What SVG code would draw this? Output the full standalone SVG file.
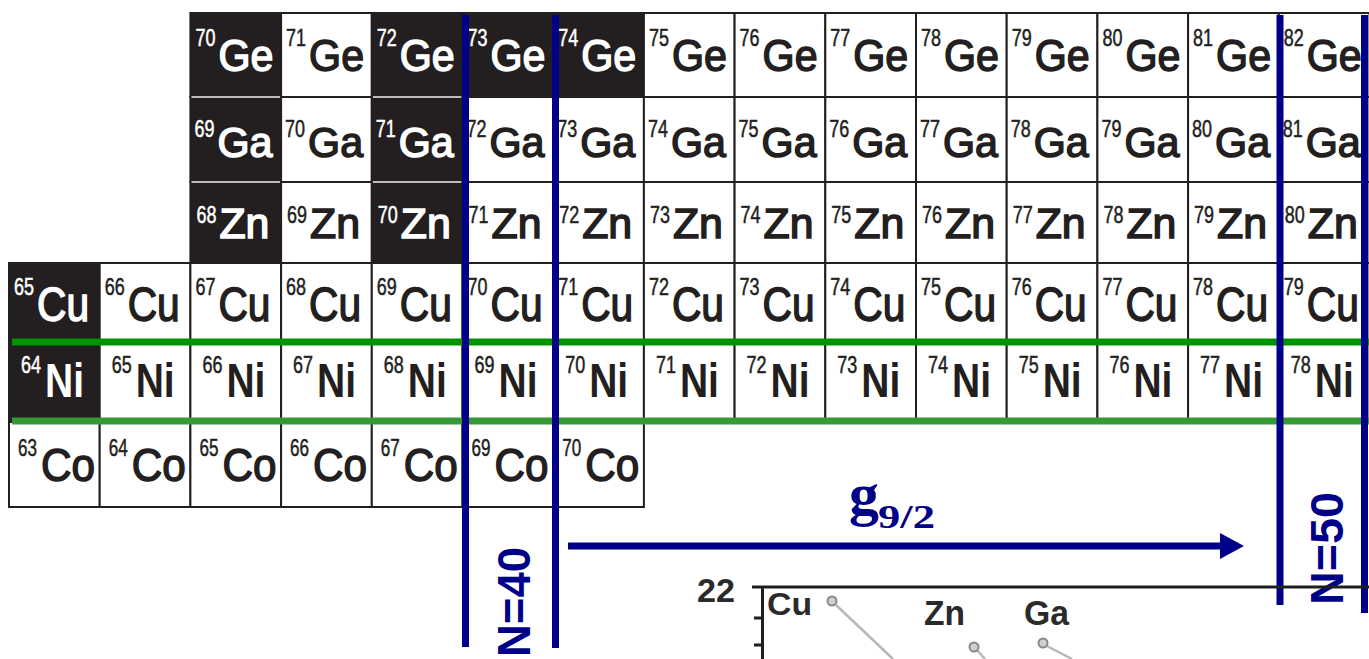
<svg xmlns="http://www.w3.org/2000/svg" width="1369" height="659" viewBox="0 0 1369 659">
<defs>
<style>
rect.w{fill:#fff;stroke:#231f20;stroke-width:2}
rect.k{fill:#231f20;stroke:#231f20;stroke-width:2}
text{font-family:'Liberation Sans',Arial,sans-serif}
text.s{font-size:23px;stroke-width:0.5}
text.y{stroke-width:1.5}
.tw{fill:#fff;stroke:#fff}
.tk{fill:#231f20;stroke:#231f20}
.ge{font-size:44px}
.ga{font-size:42px}
.zn{font-size:42px}
.cu{font-size:48px}
.ni{font-size:48px;font-weight:bold;stroke-width:0 !important}
.co{font-size:46px}
.nl{fill:none;stroke:#000088;stroke-width:7}
.gl1{stroke:#009400;stroke-width:7}
.gl2{stroke:#359a35;stroke-width:7}
.nt{fill:#000088;font-weight:bold;font-size:46px}
.pt{fill:#2a2a2a;font-weight:bold}
</style>
<marker id="ah" markerUnits="userSpaceOnUse" markerWidth="26" markerHeight="26" refX="2" refY="13" orient="auto">
<path d="M0,0 L24,13 L0,26 Z" fill="#000088"/>
</marker>
</defs>
<rect width="1369" height="659" fill="#fff"/>

<g id="row-ge">
<g id="ge70"><rect class="k" x="190.4" y="13" width="90.7" height="84"/><text class="s tw" x="195.4" y="46" textLength="20" lengthAdjust="spacingAndGlyphs">70</text><text class="y ge tw" x="218.4" y="71" textLength="55" lengthAdjust="spacingAndGlyphs">Ge</text></g>
<g id="ge71"><rect class="w" x="281.1" y="13" width="90.7" height="84"/><text class="s tk" x="286.1" y="46" textLength="20" lengthAdjust="spacingAndGlyphs">71</text><text class="y ge tk" x="309.1" y="71" textLength="55" lengthAdjust="spacingAndGlyphs">Ge</text></g>
<g id="ge72"><rect class="k" x="371.8" y="13" width="90.7" height="84"/><text class="s tw" x="376.8" y="46" textLength="20" lengthAdjust="spacingAndGlyphs">72</text><text class="y ge tw" x="399.8" y="71" textLength="55" lengthAdjust="spacingAndGlyphs">Ge</text></g>
<g id="ge73"><rect class="k" x="462.5" y="13" width="90.7" height="84"/><text class="s tw" x="467.5" y="46" textLength="20" lengthAdjust="spacingAndGlyphs">73</text><text class="y ge tw" x="490.5" y="71" textLength="55" lengthAdjust="spacingAndGlyphs">Ge</text></g>
<g id="ge74"><rect class="k" x="553.2" y="13" width="90.7" height="84"/><text class="s tw" x="558.2" y="46" textLength="20" lengthAdjust="spacingAndGlyphs">74</text><text class="y ge tw" x="581.2" y="71" textLength="55" lengthAdjust="spacingAndGlyphs">Ge</text></g>
<g id="ge75"><rect class="w" x="643.9" y="13" width="90.7" height="84"/><text class="s tk" x="648.9" y="46" textLength="20" lengthAdjust="spacingAndGlyphs">75</text><text class="y ge tk" x="671.9" y="71" textLength="55" lengthAdjust="spacingAndGlyphs">Ge</text></g>
<g id="ge76"><rect class="w" x="734.6" y="13" width="90.7" height="84"/><text class="s tk" x="739.6" y="46" textLength="20" lengthAdjust="spacingAndGlyphs">76</text><text class="y ge tk" x="762.6" y="71" textLength="55" lengthAdjust="spacingAndGlyphs">Ge</text></g>
<g id="ge77"><rect class="w" x="825.3" y="13" width="90.7" height="84"/><text class="s tk" x="830.3" y="46" textLength="20" lengthAdjust="spacingAndGlyphs">77</text><text class="y ge tk" x="853.3" y="71" textLength="55" lengthAdjust="spacingAndGlyphs">Ge</text></g>
<g id="ge78"><rect class="w" x="916" y="13" width="90.7" height="84"/><text class="s tk" x="921" y="46" textLength="20" lengthAdjust="spacingAndGlyphs">78</text><text class="y ge tk" x="944" y="71" textLength="55" lengthAdjust="spacingAndGlyphs">Ge</text></g>
<g id="ge79"><rect class="w" x="1006.7" y="13" width="90.7" height="84"/><text class="s tk" x="1011.7" y="46" textLength="20" lengthAdjust="spacingAndGlyphs">79</text><text class="y ge tk" x="1034.7" y="71" textLength="55" lengthAdjust="spacingAndGlyphs">Ge</text></g>
<g id="ge80"><rect class="w" x="1097.4" y="13" width="90.7" height="84"/><text class="s tk" x="1102.4" y="46" textLength="20" lengthAdjust="spacingAndGlyphs">80</text><text class="y ge tk" x="1125.4" y="71" textLength="55" lengthAdjust="spacingAndGlyphs">Ge</text></g>
<g id="ge81"><rect class="w" x="1188.1" y="13" width="90.7" height="84"/><text class="s tk" x="1193.1" y="46" textLength="20" lengthAdjust="spacingAndGlyphs">81</text><text class="y ge tk" x="1216.1" y="71" textLength="55" lengthAdjust="spacingAndGlyphs">Ge</text></g>
<g id="ge82"><rect class="w" x="1278.8" y="13" width="90.7" height="84"/><text class="s tk" x="1283.8" y="46" textLength="20" lengthAdjust="spacingAndGlyphs">82</text><text class="y ge tk" x="1306.8" y="71" textLength="55" lengthAdjust="spacingAndGlyphs">Ge</text></g>
</g>

<g id="row-ga">
<g id="ga69"><rect class="k" x="190.4" y="97" width="90.7" height="85"/><text class="s tw" x="194.4" y="137" textLength="20" lengthAdjust="spacingAndGlyphs">69</text><text class="y ga tw" x="217.4" y="157" textLength="55" lengthAdjust="spacingAndGlyphs">Ga</text></g>
<g id="ga70"><rect class="w" x="281.1" y="97" width="90.7" height="85"/><text class="s tk" x="285.1" y="137" textLength="20" lengthAdjust="spacingAndGlyphs">70</text><text class="y ga tk" x="308.1" y="157" textLength="55" lengthAdjust="spacingAndGlyphs">Ga</text></g>
<g id="ga71"><rect class="k" x="371.8" y="97" width="90.7" height="85"/><text class="s tw" x="375.8" y="137" textLength="20" lengthAdjust="spacingAndGlyphs">71</text><text class="y ga tw" x="398.8" y="157" textLength="55" lengthAdjust="spacingAndGlyphs">Ga</text></g>
<g id="ga72"><rect class="w" x="462.5" y="97" width="90.7" height="85"/><text class="s tk" x="466.5" y="137" textLength="20" lengthAdjust="spacingAndGlyphs">72</text><text class="y ga tk" x="489.5" y="157" textLength="55" lengthAdjust="spacingAndGlyphs">Ga</text></g>
<g id="ga73"><rect class="w" x="553.2" y="97" width="90.7" height="85"/><text class="s tk" x="557.2" y="137" textLength="20" lengthAdjust="spacingAndGlyphs">73</text><text class="y ga tk" x="580.2" y="157" textLength="55" lengthAdjust="spacingAndGlyphs">Ga</text></g>
<g id="ga74"><rect class="w" x="643.9" y="97" width="90.7" height="85"/><text class="s tk" x="647.9" y="137" textLength="20" lengthAdjust="spacingAndGlyphs">74</text><text class="y ga tk" x="670.9" y="157" textLength="55" lengthAdjust="spacingAndGlyphs">Ga</text></g>
<g id="ga75"><rect class="w" x="734.6" y="97" width="90.7" height="85"/><text class="s tk" x="738.6" y="137" textLength="20" lengthAdjust="spacingAndGlyphs">75</text><text class="y ga tk" x="761.6" y="157" textLength="55" lengthAdjust="spacingAndGlyphs">Ga</text></g>
<g id="ga76"><rect class="w" x="825.3" y="97" width="90.7" height="85"/><text class="s tk" x="829.3" y="137" textLength="20" lengthAdjust="spacingAndGlyphs">76</text><text class="y ga tk" x="852.3" y="157" textLength="55" lengthAdjust="spacingAndGlyphs">Ga</text></g>
<g id="ga77"><rect class="w" x="916" y="97" width="90.7" height="85"/><text class="s tk" x="920" y="137" textLength="20" lengthAdjust="spacingAndGlyphs">77</text><text class="y ga tk" x="943" y="157" textLength="55" lengthAdjust="spacingAndGlyphs">Ga</text></g>
<g id="ga78"><rect class="w" x="1006.7" y="97" width="90.7" height="85"/><text class="s tk" x="1010.7" y="137" textLength="20" lengthAdjust="spacingAndGlyphs">78</text><text class="y ga tk" x="1033.7" y="157" textLength="55" lengthAdjust="spacingAndGlyphs">Ga</text></g>
<g id="ga79"><rect class="w" x="1097.4" y="97" width="90.7" height="85"/><text class="s tk" x="1101.4" y="137" textLength="20" lengthAdjust="spacingAndGlyphs">79</text><text class="y ga tk" x="1124.4" y="157" textLength="55" lengthAdjust="spacingAndGlyphs">Ga</text></g>
<g id="ga80"><rect class="w" x="1188.1" y="97" width="90.7" height="85"/><text class="s tk" x="1192.1" y="137" textLength="20" lengthAdjust="spacingAndGlyphs">80</text><text class="y ga tk" x="1215.1" y="157" textLength="55" lengthAdjust="spacingAndGlyphs">Ga</text></g>
<g id="ga81"><rect class="w" x="1278.8" y="97" width="90.7" height="85"/><text class="s tk" x="1282.8" y="137" textLength="20" lengthAdjust="spacingAndGlyphs">81</text><text class="y ga tk" x="1305.8" y="157" textLength="55" lengthAdjust="spacingAndGlyphs">Ga</text></g>
</g>

<g id="row-zn">
<g id="zn68"><rect class="k" x="190.4" y="182" width="90.7" height="81"/><text class="s tw" x="196.4" y="223" textLength="20" lengthAdjust="spacingAndGlyphs">68</text><text class="y zn tw" x="219.4" y="238" textLength="50" lengthAdjust="spacingAndGlyphs">Zn</text></g>
<g id="zn69"><rect class="w" x="281.1" y="182" width="90.7" height="81"/><text class="s tk" x="287.1" y="223" textLength="20" lengthAdjust="spacingAndGlyphs">69</text><text class="y zn tk" x="310.1" y="238" textLength="50" lengthAdjust="spacingAndGlyphs">Zn</text></g>
<g id="zn70"><rect class="k" x="371.8" y="182" width="90.7" height="81"/><text class="s tw" x="377.8" y="223" textLength="20" lengthAdjust="spacingAndGlyphs">70</text><text class="y zn tw" x="400.8" y="238" textLength="50" lengthAdjust="spacingAndGlyphs">Zn</text></g>
<g id="zn71"><rect class="w" x="462.5" y="182" width="90.7" height="81"/><text class="s tk" x="468.5" y="223" textLength="20" lengthAdjust="spacingAndGlyphs">71</text><text class="y zn tk" x="491.5" y="238" textLength="50" lengthAdjust="spacingAndGlyphs">Zn</text></g>
<g id="zn72"><rect class="w" x="553.2" y="182" width="90.7" height="81"/><text class="s tk" x="559.2" y="223" textLength="20" lengthAdjust="spacingAndGlyphs">72</text><text class="y zn tk" x="582.2" y="238" textLength="50" lengthAdjust="spacingAndGlyphs">Zn</text></g>
<g id="zn73"><rect class="w" x="643.9" y="182" width="90.7" height="81"/><text class="s tk" x="649.9" y="223" textLength="20" lengthAdjust="spacingAndGlyphs">73</text><text class="y zn tk" x="672.9" y="238" textLength="50" lengthAdjust="spacingAndGlyphs">Zn</text></g>
<g id="zn74"><rect class="w" x="734.6" y="182" width="90.7" height="81"/><text class="s tk" x="740.6" y="223" textLength="20" lengthAdjust="spacingAndGlyphs">74</text><text class="y zn tk" x="763.6" y="238" textLength="50" lengthAdjust="spacingAndGlyphs">Zn</text></g>
<g id="zn75"><rect class="w" x="825.3" y="182" width="90.7" height="81"/><text class="s tk" x="831.3" y="223" textLength="20" lengthAdjust="spacingAndGlyphs">75</text><text class="y zn tk" x="854.3" y="238" textLength="50" lengthAdjust="spacingAndGlyphs">Zn</text></g>
<g id="zn76"><rect class="w" x="916" y="182" width="90.7" height="81"/><text class="s tk" x="922" y="223" textLength="20" lengthAdjust="spacingAndGlyphs">76</text><text class="y zn tk" x="945" y="238" textLength="50" lengthAdjust="spacingAndGlyphs">Zn</text></g>
<g id="zn77"><rect class="w" x="1006.7" y="182" width="90.7" height="81"/><text class="s tk" x="1012.7" y="223" textLength="20" lengthAdjust="spacingAndGlyphs">77</text><text class="y zn tk" x="1035.7" y="238" textLength="50" lengthAdjust="spacingAndGlyphs">Zn</text></g>
<g id="zn78"><rect class="w" x="1097.4" y="182" width="90.7" height="81"/><text class="s tk" x="1103.4" y="223" textLength="20" lengthAdjust="spacingAndGlyphs">78</text><text class="y zn tk" x="1126.4" y="238" textLength="50" lengthAdjust="spacingAndGlyphs">Zn</text></g>
<g id="zn79"><rect class="w" x="1188.1" y="182" width="90.7" height="81"/><text class="s tk" x="1194.1" y="223" textLength="20" lengthAdjust="spacingAndGlyphs">79</text><text class="y zn tk" x="1217.1" y="238" textLength="50" lengthAdjust="spacingAndGlyphs">Zn</text></g>
<g id="zn80"><rect class="w" x="1278.8" y="182" width="90.7" height="81"/><text class="s tk" x="1284.8" y="223" textLength="20" lengthAdjust="spacingAndGlyphs">80</text><text class="y zn tk" x="1307.8" y="238" textLength="50" lengthAdjust="spacingAndGlyphs">Zn</text></g>
</g>

<g id="row-cu">
<g id="cu65"><rect class="k" x="9" y="263" width="90.7" height="79"/><text class="s tw" x="14" y="295" textLength="20" lengthAdjust="spacingAndGlyphs">65</text><text class="y cu tw" x="37" y="321" textLength="52" lengthAdjust="spacingAndGlyphs">Cu</text></g>
<g id="cu66"><rect class="w" x="99.7" y="263" width="90.7" height="79"/><text class="s tk" x="104.7" y="295" textLength="20" lengthAdjust="spacingAndGlyphs">66</text><text class="y cu tk" x="127.7" y="321" textLength="52" lengthAdjust="spacingAndGlyphs">Cu</text></g>
<g id="cu67"><rect class="w" x="190.4" y="263" width="90.7" height="79"/><text class="s tk" x="195.4" y="295" textLength="20" lengthAdjust="spacingAndGlyphs">67</text><text class="y cu tk" x="218.4" y="321" textLength="52" lengthAdjust="spacingAndGlyphs">Cu</text></g>
<g id="cu68"><rect class="w" x="281.1" y="263" width="90.7" height="79"/><text class="s tk" x="286.1" y="295" textLength="20" lengthAdjust="spacingAndGlyphs">68</text><text class="y cu tk" x="309.1" y="321" textLength="52" lengthAdjust="spacingAndGlyphs">Cu</text></g>
<g id="cu69"><rect class="w" x="371.8" y="263" width="90.7" height="79"/><text class="s tk" x="376.8" y="295" textLength="20" lengthAdjust="spacingAndGlyphs">69</text><text class="y cu tk" x="399.8" y="321" textLength="52" lengthAdjust="spacingAndGlyphs">Cu</text></g>
<g id="cu70"><rect class="w" x="462.5" y="263" width="90.7" height="79"/><text class="s tk" x="467.5" y="295" textLength="20" lengthAdjust="spacingAndGlyphs">70</text><text class="y cu tk" x="490.5" y="321" textLength="52" lengthAdjust="spacingAndGlyphs">Cu</text></g>
<g id="cu71"><rect class="w" x="553.2" y="263" width="90.7" height="79"/><text class="s tk" x="558.2" y="295" textLength="20" lengthAdjust="spacingAndGlyphs">71</text><text class="y cu tk" x="581.2" y="321" textLength="52" lengthAdjust="spacingAndGlyphs">Cu</text></g>
<g id="cu72"><rect class="w" x="643.9" y="263" width="90.7" height="79"/><text class="s tk" x="648.9" y="295" textLength="20" lengthAdjust="spacingAndGlyphs">72</text><text class="y cu tk" x="671.9" y="321" textLength="52" lengthAdjust="spacingAndGlyphs">Cu</text></g>
<g id="cu73"><rect class="w" x="734.6" y="263" width="90.7" height="79"/><text class="s tk" x="739.6" y="295" textLength="20" lengthAdjust="spacingAndGlyphs">73</text><text class="y cu tk" x="762.6" y="321" textLength="52" lengthAdjust="spacingAndGlyphs">Cu</text></g>
<g id="cu74"><rect class="w" x="825.3" y="263" width="90.7" height="79"/><text class="s tk" x="830.3" y="295" textLength="20" lengthAdjust="spacingAndGlyphs">74</text><text class="y cu tk" x="853.3" y="321" textLength="52" lengthAdjust="spacingAndGlyphs">Cu</text></g>
<g id="cu75"><rect class="w" x="916" y="263" width="90.7" height="79"/><text class="s tk" x="921" y="295" textLength="20" lengthAdjust="spacingAndGlyphs">75</text><text class="y cu tk" x="944" y="321" textLength="52" lengthAdjust="spacingAndGlyphs">Cu</text></g>
<g id="cu76"><rect class="w" x="1006.7" y="263" width="90.7" height="79"/><text class="s tk" x="1011.7" y="295" textLength="20" lengthAdjust="spacingAndGlyphs">76</text><text class="y cu tk" x="1034.7" y="321" textLength="52" lengthAdjust="spacingAndGlyphs">Cu</text></g>
<g id="cu77"><rect class="w" x="1097.4" y="263" width="90.7" height="79"/><text class="s tk" x="1102.4" y="295" textLength="20" lengthAdjust="spacingAndGlyphs">77</text><text class="y cu tk" x="1125.4" y="321" textLength="52" lengthAdjust="spacingAndGlyphs">Cu</text></g>
<g id="cu78"><rect class="w" x="1188.1" y="263" width="90.7" height="79"/><text class="s tk" x="1193.1" y="295" textLength="20" lengthAdjust="spacingAndGlyphs">78</text><text class="y cu tk" x="1216.1" y="321" textLength="52" lengthAdjust="spacingAndGlyphs">Cu</text></g>
<g id="cu79"><rect class="w" x="1278.8" y="263" width="90.7" height="79"/><text class="s tk" x="1283.8" y="295" textLength="20" lengthAdjust="spacingAndGlyphs">79</text><text class="y cu tk" x="1306.8" y="321" textLength="52" lengthAdjust="spacingAndGlyphs">Cu</text></g>
</g>

<g id="row-ni">
<g id="ni64"><rect class="k" x="9" y="342" width="90.7" height="80"/><text class="s tw" x="21" y="373" textLength="20" lengthAdjust="spacingAndGlyphs">64</text><text class="ni tw" x="45" y="397" textLength="39" lengthAdjust="spacingAndGlyphs">Ni</text></g>
<g id="ni65"><rect class="w" x="99.7" y="342" width="90.7" height="80"/><text class="s tk" x="111.7" y="373" textLength="20" lengthAdjust="spacingAndGlyphs">65</text><text class="ni tk" x="135.7" y="397" textLength="39" lengthAdjust="spacingAndGlyphs">Ni</text></g>
<g id="ni66"><rect class="w" x="190.4" y="342" width="90.7" height="80"/><text class="s tk" x="202.4" y="373" textLength="20" lengthAdjust="spacingAndGlyphs">66</text><text class="ni tk" x="226.4" y="397" textLength="39" lengthAdjust="spacingAndGlyphs">Ni</text></g>
<g id="ni67"><rect class="w" x="281.1" y="342" width="90.7" height="80"/><text class="s tk" x="293.1" y="373" textLength="20" lengthAdjust="spacingAndGlyphs">67</text><text class="ni tk" x="317.1" y="397" textLength="39" lengthAdjust="spacingAndGlyphs">Ni</text></g>
<g id="ni68"><rect class="w" x="371.8" y="342" width="90.7" height="80"/><text class="s tk" x="383.8" y="373" textLength="20" lengthAdjust="spacingAndGlyphs">68</text><text class="ni tk" x="407.8" y="397" textLength="39" lengthAdjust="spacingAndGlyphs">Ni</text></g>
<g id="ni69"><rect class="w" x="462.5" y="342" width="90.7" height="80"/><text class="s tk" x="474.5" y="373" textLength="20" lengthAdjust="spacingAndGlyphs">69</text><text class="ni tk" x="498.5" y="397" textLength="39" lengthAdjust="spacingAndGlyphs">Ni</text></g>
<g id="ni70"><rect class="w" x="553.2" y="342" width="90.7" height="80"/><text class="s tk" x="565.2" y="373" textLength="20" lengthAdjust="spacingAndGlyphs">70</text><text class="ni tk" x="589.2" y="397" textLength="39" lengthAdjust="spacingAndGlyphs">Ni</text></g>
<g id="ni71"><rect class="w" x="643.9" y="342" width="90.7" height="80"/><text class="s tk" x="655.9" y="373" textLength="20" lengthAdjust="spacingAndGlyphs">71</text><text class="ni tk" x="679.9" y="397" textLength="39" lengthAdjust="spacingAndGlyphs">Ni</text></g>
<g id="ni72"><rect class="w" x="734.6" y="342" width="90.7" height="80"/><text class="s tk" x="746.6" y="373" textLength="20" lengthAdjust="spacingAndGlyphs">72</text><text class="ni tk" x="770.6" y="397" textLength="39" lengthAdjust="spacingAndGlyphs">Ni</text></g>
<g id="ni73"><rect class="w" x="825.3" y="342" width="90.7" height="80"/><text class="s tk" x="837.3" y="373" textLength="20" lengthAdjust="spacingAndGlyphs">73</text><text class="ni tk" x="861.3" y="397" textLength="39" lengthAdjust="spacingAndGlyphs">Ni</text></g>
<g id="ni74"><rect class="w" x="916" y="342" width="90.7" height="80"/><text class="s tk" x="928" y="373" textLength="20" lengthAdjust="spacingAndGlyphs">74</text><text class="ni tk" x="952" y="397" textLength="39" lengthAdjust="spacingAndGlyphs">Ni</text></g>
<g id="ni75"><rect class="w" x="1006.7" y="342" width="90.7" height="80"/><text class="s tk" x="1018.7" y="373" textLength="20" lengthAdjust="spacingAndGlyphs">75</text><text class="ni tk" x="1042.7" y="397" textLength="39" lengthAdjust="spacingAndGlyphs">Ni</text></g>
<g id="ni76"><rect class="w" x="1097.4" y="342" width="90.7" height="80"/><text class="s tk" x="1109.4" y="373" textLength="20" lengthAdjust="spacingAndGlyphs">76</text><text class="ni tk" x="1133.4" y="397" textLength="39" lengthAdjust="spacingAndGlyphs">Ni</text></g>
<g id="ni77"><rect class="w" x="1188.1" y="342" width="90.7" height="80"/><text class="s tk" x="1200.1" y="373" textLength="20" lengthAdjust="spacingAndGlyphs">77</text><text class="ni tk" x="1224.1" y="397" textLength="39" lengthAdjust="spacingAndGlyphs">Ni</text></g>
<g id="ni78"><rect class="w" x="1278.8" y="342" width="90.7" height="80"/><text class="s tk" x="1290.8" y="373" textLength="20" lengthAdjust="spacingAndGlyphs">78</text><text class="ni tk" x="1314.8" y="397" textLength="39" lengthAdjust="spacingAndGlyphs">Ni</text></g>
</g>

<g id="row-co">
<g id="co63"><rect class="w" x="9" y="422" width="90.7" height="85"/><text class="s tk" x="18" y="456" textLength="19" lengthAdjust="spacingAndGlyphs">63</text><text class="y co tk" x="41" y="481" textLength="54" lengthAdjust="spacingAndGlyphs">Co</text></g>
<g id="co64"><rect class="w" x="99.7" y="422" width="90.7" height="85"/><text class="s tk" x="108.7" y="456" textLength="19" lengthAdjust="spacingAndGlyphs">64</text><text class="y co tk" x="131.7" y="481" textLength="54" lengthAdjust="spacingAndGlyphs">Co</text></g>
<g id="co65"><rect class="w" x="190.4" y="422" width="90.7" height="85"/><text class="s tk" x="199.4" y="456" textLength="19" lengthAdjust="spacingAndGlyphs">65</text><text class="y co tk" x="222.4" y="481" textLength="54" lengthAdjust="spacingAndGlyphs">Co</text></g>
<g id="co66"><rect class="w" x="281.1" y="422" width="90.7" height="85"/><text class="s tk" x="290.1" y="456" textLength="19" lengthAdjust="spacingAndGlyphs">66</text><text class="y co tk" x="313.1" y="481" textLength="54" lengthAdjust="spacingAndGlyphs">Co</text></g>
<g id="co67"><rect class="w" x="371.8" y="422" width="90.7" height="85"/><text class="s tk" x="380.8" y="456" textLength="19" lengthAdjust="spacingAndGlyphs">67</text><text class="y co tk" x="403.8" y="481" textLength="54" lengthAdjust="spacingAndGlyphs">Co</text></g>
<g id="co69"><rect class="w" x="462.5" y="422" width="90.7" height="85"/><text class="s tk" x="471.5" y="456" textLength="19" lengthAdjust="spacingAndGlyphs">69</text><text class="y co tk" x="494.5" y="481" textLength="54" lengthAdjust="spacingAndGlyphs">Co</text></g>
<g id="co70"><rect class="w" x="553.2" y="422" width="90.7" height="85"/><text class="s tk" x="562.2" y="456" textLength="19" lengthAdjust="spacingAndGlyphs">70</text><text class="y co tk" x="585.2" y="481" textLength="54" lengthAdjust="spacingAndGlyphs">Co</text></g>
</g>

<g id="separators" stroke="#f2f2f2" stroke-width="1.5">
<line x1="191.5" y1="97" x2="280" y2="97"/>
<line x1="372.9" y1="97" x2="461.4" y2="97"/>
<line x1="191.5" y1="182" x2="280" y2="182"/>
<line x1="372.9" y1="182" x2="461.4" y2="182"/>
</g>

<g id="shell-lines">
<line class="gl1" x1="12" y1="342" x2="1369" y2="342"/>
<line class="gl2" x1="12" y1="421" x2="1369" y2="421"/>
<line class="nl" x1="465.5" y1="15" x2="465.5" y2="647"/>
<line class="nl" x1="555.5" y1="15" x2="555.5" y2="648"/>
<line class="nl" x1="1280" y1="15" x2="1280" y2="605"/>
<line class="nl" x1="1364.5" y1="15" x2="1364.5" y2="613"/>
</g>

<g id="label-n40"><text class="nt" transform="translate(530,657) rotate(-90)" x="0" y="0" textLength="110" lengthAdjust="spacingAndGlyphs">N=40</text></g>
<g id="label-n50"><text class="nt" transform="translate(1343,605) rotate(-90)" x="0" y="0" textLength="113" lengthAdjust="spacingAndGlyphs">N=50</text></g>

<g id="connectors">
<line x1="568" y1="546" x2="1222" y2="546" stroke="#000088" stroke-width="7" marker-end="url(#ah)"/>
</g>

<g id="label-g92">
<text x="849" y="514" fill="#000088" style="font-family:'Liberation Serif','Times New Roman',serif;font-weight:bold;font-size:60px">g</text>
<text x="878" y="528" fill="#000088" textLength="57" lengthAdjust="spacingAndGlyphs" style="font-family:'Liberation Serif','Times New Roman',serif;font-weight:bold;font-size:34px">9/2</text>
</g>

<g id="plot">
<line x1="752" y1="587" x2="1369" y2="587" stroke="#1e1e1e" stroke-width="3"/>
<line x1="762.5" y1="587" x2="762.5" y2="659" stroke="#1e1e1e" stroke-width="3"/>
<line x1="754" y1="618" x2="762" y2="618" stroke="#1e1e1e" stroke-width="3"/>
<line x1="754" y1="645" x2="762" y2="645" stroke="#1e1e1e" stroke-width="3"/>
<text class="pt" x="697" y="602" font-size="34" textLength="38" lengthAdjust="spacingAndGlyphs">22</text>
<text class="pt" x="767" y="615" font-size="32" textLength="45" lengthAdjust="spacingAndGlyphs">Cu</text>
<text class="pt" x="924" y="625" font-size="35" textLength="41" lengthAdjust="spacingAndGlyphs">Zn</text>
<text class="pt" x="1024" y="625" font-size="35" textLength="45" lengthAdjust="spacingAndGlyphs">Ga</text>
<g stroke="#b8b8b8" stroke-width="2.5">
<line x1="836" y1="605" x2="893" y2="659"/>
<line x1="977" y1="650" x2="985" y2="659"/>
<line x1="1047" y1="646" x2="1072" y2="659"/>
</g>
<g fill="#d0d0d0" stroke="#888" stroke-width="2">
<circle cx="832" cy="601" r="4.5"/>
<circle cx="974" cy="647" r="4.5"/>
<circle cx="1043" cy="643" r="4.5"/>
</g>
</g>
</svg>
